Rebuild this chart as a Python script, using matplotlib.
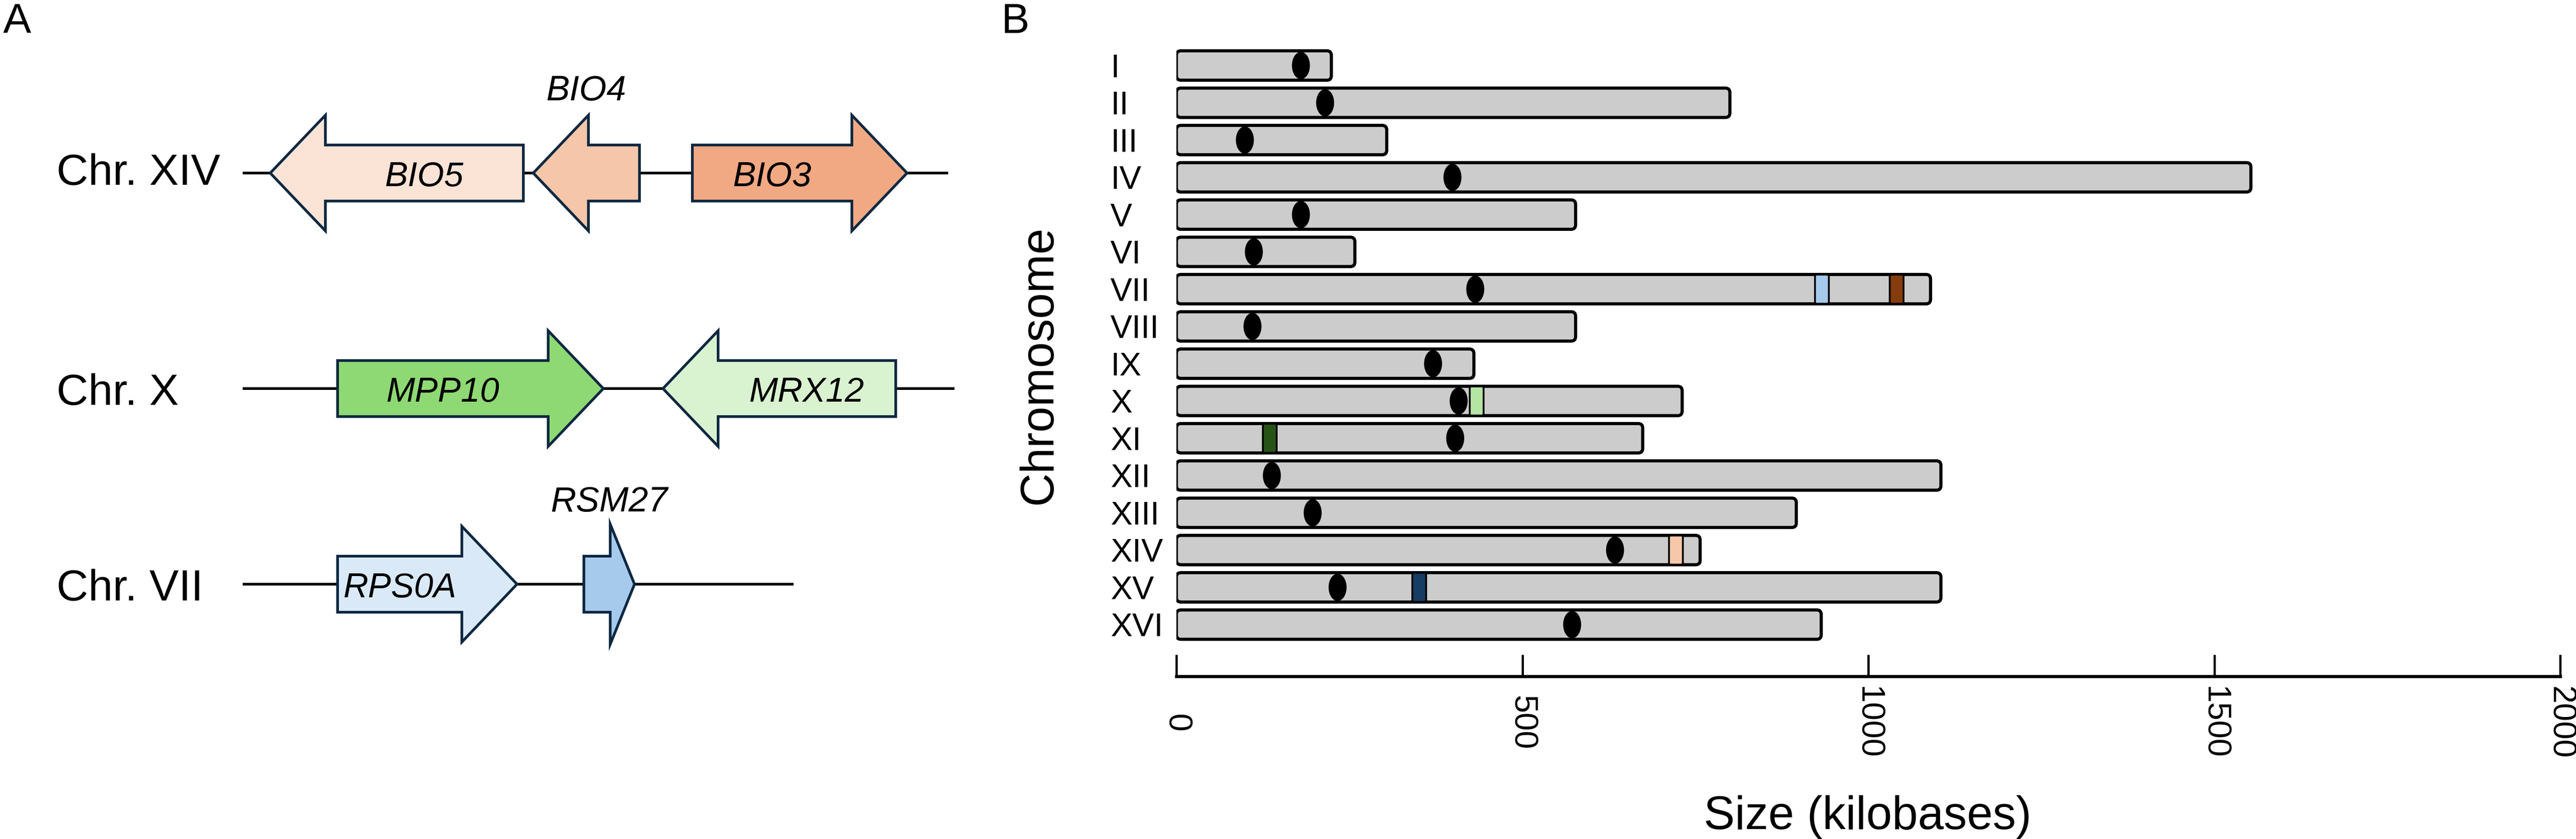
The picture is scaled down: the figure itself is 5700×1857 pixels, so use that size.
import matplotlib
matplotlib.use('Agg')
import matplotlib.pyplot as plt
from matplotlib.patches import Polygon, Ellipse, FancyBboxPatch

plt.rcParams['font.family'] = ['Liberation Sans', 'DejaVu Sans']

# ---- panel A: gene neighbourhoods (schematic units along each locus line)
loci = ['Chr. XIV', 'Chr. X', 'Chr. VII']
locus_len = [1561, 1575, 1219]

gene_names = ['BIO5', 'BIO4', 'BIO3', 'MPP10', 'MRX12', 'RPS0A', 'RSM27']
gene_locus = [0, 0, 0, 1, 1, 2, 2]
gene_start = [61, 643, 995, 210, 930, 210, 755]
gene_end = [621, 878, 1470, 798, 1445, 607, 867]
gene_strand = [-1, -1, 1, 1, -1, 1, 1]
gene_colors = ['#FBE3D6', '#F5C6A9', '#F1A983', '#8ED973', '#D9F2D0', '#DAE9F8', '#A6CAEC']
label_above = [False, True, False, False, False, False, True]

# ---- panel B: chromosome map (kilobases)
chroms = ['I', 'II', 'III', 'IV', 'V', 'VI', 'VII', 'VIII',
          'IX', 'X', 'XI', 'XII', 'XIII', 'XIV', 'XV', 'XVI']
chrom_size = [224, 800, 304, 1553, 577, 258, 1090, 577,
              430, 731, 674, 1105, 896, 757, 1105, 932]
centromere = [180, 215, 99, 399, 180, 112, 432, 110,
              371, 408, 403, 138, 197, 634, 233, 572]
band_chrom = ['VII', 'VII', 'X', 'XI', 'XIV', 'XV']
band_pos = [933, 1041, 434, 135, 722, 351]
band_colors = ['#A6CAEC', '#843C0C', '#B4E5A2', '#275317', '#F7C7AC', '#163E64']
xticks = [0, 500, 1000, 1500, 2000]

W, H = 5700, 1857
fig = plt.figure(figsize=(W / 100, H / 100), dpi=100)

# panel A drawn on a pixel-like canvas
axA = fig.add_axes([0, 0, 1, 1])
axA.set_xlim(0, W)
axA.set_ylim(H, 0)
axA.axis('off')

line_x0 = 537
locus_y = [383, 860, 1293]
label_base = [409, 896, 1329]
body_h, head_h = 62, 128
edge = '#0E2841'

for i, name in enumerate(loci):
    y = locus_y[i]
    axA.plot([line_x0, line_x0 + locus_len[i]], [y, y], color='black', lw=4.3,
             solid_capstyle='butt', zorder=1)
    axA.text(125, label_base[i], name, fontsize=70, ha='left', va='baseline')

for g, name in enumerate(gene_names):
    y = locus_y[gene_locus[g]]
    s = line_x0 + gene_start[g]
    e = line_x0 + gene_end[g]
    hl = 122 if e - s > 200 else 0.48 * (e - s)
    hh = head_h if e - s > 200 else 133
    if gene_strand[g] > 0:
        pts = [(s, y - body_h), (e - hl, y - body_h), (e - hl, y - hh), (e, y),
               (e - hl, y + hh), (e - hl, y + body_h), (s, y + body_h)]
    else:
        pts = [(e, y - body_h), (s + hl, y - body_h), (s + hl, y - hh), (s, y),
               (s + hl, y + hh), (s + hl, y + body_h), (e, y + body_h)]
    axA.add_patch(Polygon(pts, closed=True, facecolor=gene_colors[g],
                          edgecolor=edge, lw=4.3, joinstyle='miter', zorder=2))
    if label_above[g]:
        axA.text((s + e) / 2, y - 161, name, fontsize=56, style='italic',
                 ha='center', va='baseline', zorder=3)
    else:
        body_c = (s + e - hl) / 2 if gene_strand[g] > 0 else (s + hl + e) / 2
        axA.text(body_c, y + 29, name, fontsize=55, style='italic',
                 ha='center', va='baseline', zorder=3)

fig.text(7 / W, 1 - 73 / H, 'A', fontsize=67, ha='left', va='baseline')
fig.text(2215 / W, 1 - 73 / H, 'B', fontsize=67, ha='left', va='baseline')

# panel B
x0px, x1px, ytop, ybot = 2603, 5665, 103, 1497
ax = fig.add_axes([x0px / W, (H - ybot) / H, (x1px - x0px) / W, (ybot - ytop) / H])
ax.set_xlim(0, 2000)
ax.set_ylim(16.388, -0.509)

px_per_kb = (x1px - x0px) / 2000
px_per_row = 82.5
bar_h = 0.788
aspect = px_per_kb / px_per_row

for i, size in enumerate(chrom_size):
    ax.add_patch(FancyBboxPatch((0, i - bar_h / 2), size, bar_h,
                                boxstyle='round,pad=0,rounding_size=6.5',
                                mutation_aspect=aspect, facecolor='#CCCCCC',
                                edgecolor='black', lw=5, zorder=2))
    ax.add_patch(Ellipse((centromere[i], i), 26, 0.73, facecolor='black',
                         edgecolor='none', zorder=3))

for c, pos, col in zip(band_chrom, band_pos, band_colors):
    i = chroms.index(c)
    ax.add_patch(FancyBboxPatch((pos - 10, i - 0.39), 20, 0.78,
                                boxstyle='round,pad=0,rounding_size=2.5',
                                mutation_aspect=aspect, facecolor=col,
                                edgecolor='black', lw=2.9, zorder=4))

for side in ['top', 'right', 'left']:
    ax.spines[side].set_visible(False)
ax.spines['bottom'].set_linewidth(5)
ax.set_facecolor('none')

ax.set_xticks(xticks)
ax.set_xticklabels([str(t) for t in xticks])
ax.tick_params(axis='x', direction='in', length=34.6, width=3.6, pad=74, labelsize=52)
plt.setp(ax.get_xticklabels(), rotation=-90, va='center', ha='center')

ax.set_yticks(range(len(chroms)))
ax.set_yticklabels(chroms)
ax.tick_params(axis='y', length=0, pad=105, labelsize=52)
plt.setp(ax.get_yticklabels(), ha='left')

fig.text(2327 / W, 1 - 808 / H, 'Chromosome', fontsize=74, rotation=90,
         ha='center', va='baseline', rotation_mode='anchor')
fig.text(4133 / W, 1 - 1835 / H, 'Size (kilobases)', fontsize=74,
         ha='center', va='baseline')

fig.savefig('out.png', dpi=100, facecolor='white')
